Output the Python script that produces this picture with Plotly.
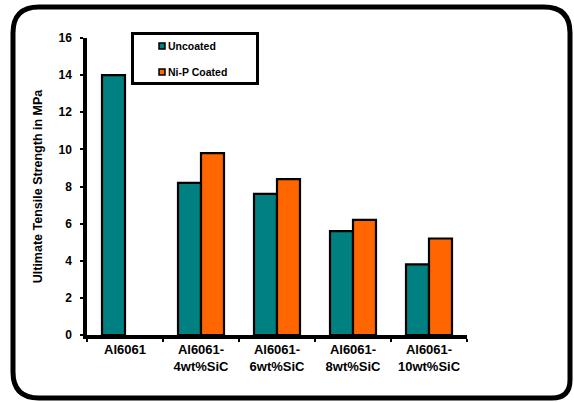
import plotly.graph_objects as go

# Ultimate tensile strength (MPa) of Al6061 and its SiC composites
categories = ["Al6061", "Al6061-<br>4wt%SiC", "Al6061-<br>6wt%SiC", "Al6061-<br>8wt%SiC", "Al6061-<br>10wt%SiC"]
uncoated = [14.0, 8.2, 7.6, 5.6, 3.8]
nip_coated = [None, 9.8, 8.4, 6.2, 5.2]
series_names = ["Uncoated", "Ni-P Coated"]
series_colors = ["#008080", "#FF6600"]
y_ticks = [0, 2, 4, 6, 8, 10, 12, 14, 16]

W, H = 574, 402
L, R, T, B = 87, 467, 38, 335   # plot area in pixels
FONT = "Arial, Liberation Sans, sans-serif"


def px(x, y):
    """Pixel position -> paper coordinates."""
    return (x - L) / (R - L), (B - y) / (B - T)


fig = go.Figure()
for name, vals, col in zip(series_names, [uncoated, nip_coated], series_colors):
    fig.add_trace(go.Bar(
        x=categories, y=vals, name=name,
        marker=dict(color=col, line=dict(color="black", width=2.2)),
        showlegend=False,
    ))

shapes = []


def rounded_path(x0, y0, x1, y1, r, rb):
    def P(x, y):
        a, b = px(x, y)
        return f"{a:.5f},{b:.5f}"
    return (f"M {P(x0 + r, y0)} L {P(x1 - r, y0)} Q {P(x1, y0)} {P(x1, y0 + r)} "
            f"L {P(x1, y1 - rb)} Q {P(x1, y1)} {P(x1 - rb, y1)} "
            f"L {P(x0 + r, y1)} Q {P(x0, y1)} {P(x0, y1 - r)} "
            f"L {P(x0, y0 + r)} Q {P(x0, y0)} {P(x0 + r, y0)} Z")


# rounded outer frame
shapes.append(dict(type="path", xref="paper", yref="paper",
                   path=rounded_path(13, 7, 570, 398, 26, 18),
                   line=dict(color="black", width=5), fillcolor="rgba(0,0,0,0)",
                   layer="below"))

# legend box
lx0, ly0 = px(132.5, 33.5)
lx1, ly1 = px(257.5, 83.5)
shapes.append(dict(type="rect", xref="paper", yref="paper",
                   x0=lx0, y0=ly0, x1=lx1, y1=ly1,
                   line=dict(color="black", width=3), fillcolor="white"))

annotations = []
for i, (name, col) in enumerate(zip(series_names, series_colors)):
    cy = 46 + i * 26
    a0, b0 = px(159, cy - 3)
    a1, b1 = px(165, cy + 3)
    shapes.append(dict(type="rect", xref="paper", yref="paper",
                       x0=a0, y0=b0, x1=a1, y1=b1,
                       line=dict(color="black", width=1.5), fillcolor=col))
    tx, ty = px(166, cy)
    annotations.append(dict(xref="paper", yref="paper", x=tx, y=ty,
                            text=f"<b>{name}</b>", showarrow=False,
                            xanchor="left", yanchor="middle",
                            font=dict(family=FONT, size=10.5, color="black")))

fig.update_layout(
    width=W, height=H,
    margin=dict(l=L, r=W - R, t=T, b=H - B),
    paper_bgcolor="white", plot_bgcolor="white",
    barmode="group", bargap=0.395, bargroupgap=0,
    font=dict(family=FONT, color="black"),
    shapes=shapes, annotations=annotations,
    xaxis=dict(
        type="category",
        tickmode="array", tickvals=categories,
        ticktext=[f"<b>{c}</b>" for c in categories],
        tickfont=dict(family=FONT, size=13, color="black"),
        showline=True, linecolor="black", linewidth=3.5,
        ticks="outside", tickson="boundaries", ticklen=3, tickwidth=2,
        tickcolor="black", showgrid=False, zeroline=False,
    ),
    yaxis=dict(
        range=[0, 16],
        tickmode="array", tickvals=y_ticks,
        ticktext=[f"<b>{v}</b>" for v in y_ticks],
        tickfont=dict(family=FONT, size=12, color="black"),
        showline=True, linecolor="black", linewidth=3.5,
        ticks="outside", ticklen=3, tickwidth=2, tickcolor="black",
        ticklabelstandoff=6,
        showgrid=False, zeroline=False,
        title=dict(text="<b>Ultimate Tensile Strength in MPa</b>",
                   font=dict(family=FONT, size=12.5, color="black"),
                   standoff=14),
    ),
)

fig.write_html("out.html")
